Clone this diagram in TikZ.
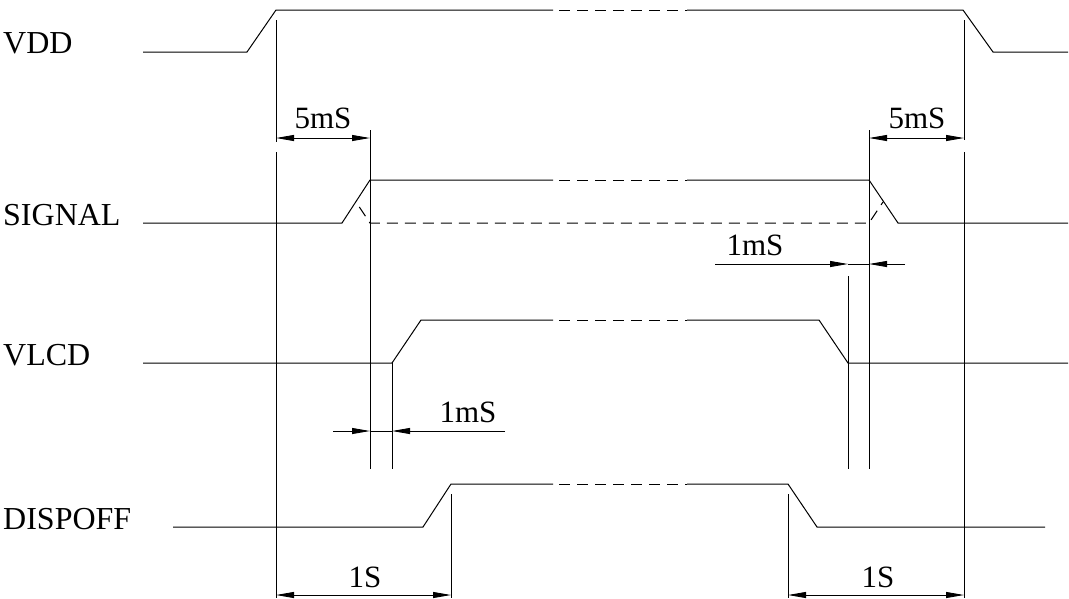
\documentclass[tikz,border=0pt]{standalone}
\usepackage{fontspec}
\setmainfont{Liberation Serif}
\usetikzlibrary{arrows.meta,positioning}

\begin{document}
\begin{tikzpicture}[
    x=1pt, y=-1pt,
    wave/.style={line width=1pt, line join=miter},
    gapline/.style={wave, dash pattern=on 11pt off 7pt, dash phase=12pt},
    extline/.style={line width=0.9pt},
    tip/.style={-{Triangle[length=18pt,width=6pt]}},
    dimarrow/.style={extline, tip},
    dimboth/.style={extline, {Triangle[length=18pt,width=6pt]}-{Triangle[length=18pt,width=6pt]}},
    siglabel/.style={anchor=base west, inner sep=0pt, font=\fontsize{32}{36}\selectfont},
    dimlabel/.style={anchor=base, inner sep=0pt, font=\fontsize{31}{36}\selectfont}
]
\useasboundingbox (0,0) rectangle (1069,598);

% Signal names
\node[siglabel] (vddname) at (3,53) {VDD};
\node[siglabel] (signame) at (3,225) {SIGNAL};
\node[siglabel] (vlcdname) at (3,365) {VLCD};
\node[siglabel] (dispname) at (3,529) {DISPOFF};

% VDD
\draw[wave] (143,52) -- (247,52) -- (276,10) -- (553,10);
\draw[gapline] (553,10) -- (687,10);
\draw[wave] (687,10) -- (963,10) -- (993,52) -- (1068,52);

% SIGNAL
\draw[wave] (143,223) -- (342,223) -- (370,180) -- (553,180);
\draw[gapline] (553,180) -- (687,180);
\draw[wave] (687,180) -- (869,180) -- (898,223) -- (1068,223);
\draw[gapline] (356,202) -- (370,223) -- (869,223) -- (883,202);

% VLCD
\draw[wave] (143,363) -- (392,363) -- (421,320) -- (553,320);
\draw[gapline] (553,320) -- (687,320);
\draw[wave] (687,320) -- (819,320) -- (848,363) -- (1068,363);

% DISPOFF
\draw[wave] (173,527) -- (423,527) -- (451,484) -- (553,484);
\draw[gapline] (553,484) -- (687,484);
\draw[wave] (687,484) -- (788,484) -- (817,527) -- (1045,527);

% Extension lines
\draw[extline] (276,20) -- (276,142) (276,152) -- (276,598);
\draw[extline] (964,20) -- (964,140) (964,152) -- (964,598);
\draw[extline] (370,130) -- (370,469);
\draw[extline] (869,130) -- (869,469);
\draw[extline] (392,363) -- (392,469);
\draw[extline] (848,276) -- (848,469);
\draw[extline] (451,494) -- (451,598);
\draw[extline] (788,494) -- (788,598);

% 5mS after VDD up / before VDD down
\coordinate (ona) at (276,138);
\coordinate (onb) at (370,138);
\coordinate (offa) at (869,138);
\coordinate (offb) at (964,138);
\draw[dimboth] (ona) -- (onb);
\draw[dimboth] (offa) -- (offb);
\node[dimlabel] (onlbl) at (323,128) {5mS};
\node[dimlabel] (offlbl) at (917,128) {5mS};

% 1mS between SIGNAL and VLCD
\coordinate (sla) at (333,431);
\coordinate (slb) at (370,431);
\coordinate (slc) at (392,431);
\coordinate (sld) at (505,431);
\draw[dimarrow] (sla) -- (slb);
\draw[dimarrow] (sld) -- (slc);
\draw[extline] (slb) -- (slc);
\node[dimlabel] (sllbl) at (468,422) {1mS};

\coordinate (sra) at (715,264);
\coordinate (srb) at (848,264);
\coordinate (src) at (869,264);
\coordinate (srd) at (905,264);
\draw[dimarrow] (sra) -- (srb);
\draw[dimarrow] (srd) -- (src);
\draw[extline] (srb) -- (src);
\node[dimlabel] (srlbl) at (755,255) {1mS};

% 1S to DISPOFF
\coordinate (dla) at (276,595);
\coordinate (dlb) at (451,595);
\coordinate (dra) at (788,595);
\coordinate (drb) at (964,595);
\draw[dimboth] (dla) -- (dlb);
\draw[dimboth] (dra) -- (drb);
\node[dimlabel] (dllbl) at (365,587) {1S};
\node[dimlabel] (drlbl) at (878,587) {1S};

\end{tikzpicture}
\end{document}
